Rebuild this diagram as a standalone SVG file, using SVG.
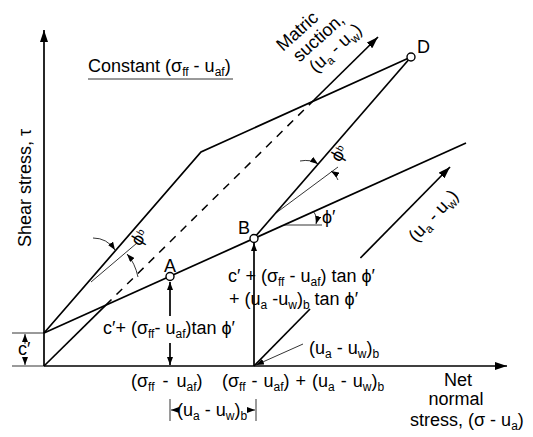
<svg xmlns="http://www.w3.org/2000/svg" width="533" height="437" viewBox="0 0 533 437">
<style>
.ln{stroke:#000;stroke-width:1.7;fill:none}
.th{stroke:#000;stroke-width:0.8;fill:none}
.da{stroke:#000;stroke-width:1.5;fill:none;stroke-dasharray:8 7}
.t{font-family:"Liberation Sans",Arial,sans-serif;fill:#000;font-size:18px}
.s{font-size:12px}
.pt{fill:#fff;stroke:#000;stroke-width:1.4}
</style>
<defs>
<marker id="ar" markerUnits="userSpaceOnUse" markerWidth="12" markerHeight="8" refX="12" refY="4" orient="auto"><path d="M0,0 L12,4 L0,8 z" fill="#000"/></marker>
<marker id="sa" markerUnits="userSpaceOnUse" markerWidth="8" markerHeight="6" refX="8" refY="3" orient="auto"><path d="M0,0 L8,3 L0,6 z" fill="#000"/></marker>
</defs>
<g id="connectors">
<path class="ln" d="M44,366 L44,30" marker-end="url(#ar)"/>
<path class="ln" d="M44,366 L507,366" marker-end="url(#ar)"/>
<path class="ln" d="M44,366 L105.8,305.1"/>
<path class="da" d="M105.8,305.1 L314,100"/>
<path class="ln" d="M314,100 L378,37" marker-end="url(#ar)"/>
<path class="ln" d="M254,366 L310,309"/>
<path class="ln" d="M360.4,258 L450,167" marker-end="url(#ar)"/>
<path class="ln" d="M44,333 L466,143"/>
<path class="ln" d="M44,333 L201,152 L411,57"/>
<path class="ln" d="M254,238 L411,57"/>
<path class="th" d="M303,344 L256,365" marker-end="url(#sa)"/>
<path class="ln" d="M254,366 L254,243" marker-end="url(#sa)"/>
<path class="ln" d="M170,316 L170,282" marker-end="url(#sa)"/>
<path class="ln" d="M170,343 L170,365" marker-end="url(#sa)"/>
<path class="th" d="M12,333 L44,333 M12,366 L44,366"/>
<path class="th" d="M25,344 L25,334" marker-end="url(#sa)"/>
<path class="th" d="M25,357 L25,365" marker-end="url(#sa)"/>
<path class="th" d="M91,282 L137,243"/>
<path class="th" d="M93,238 Q107,238 115,250" marker-end="url(#sa)"/>
<path class="th" d="M138,277 Q135,263 127,254" marker-end="url(#sa)"/>
<path class="th" d="M276,213 L338,167"/>
<path class="th" d="M300,161 Q311,159 318,164" marker-end="url(#sa)"/>
<path class="th" d="M338,180 Q336,174 331,171" marker-end="url(#sa)"/>
<path class="th" d="M284,225 L322,225"/>
<path class="th" d="M313,211 Q318,217 316,224" marker-end="url(#sa)"/>
<path class="th" d="M88,79 L233,79"/>
<path class="th" d="M170,399 L170,421 M256,399 L256,421"/>
<path class="th" d="M177,410 L171,410" marker-end="url(#sa)"/>
<path class="th" d="M249,410 L255,410" marker-end="url(#sa)"/>
</g>
<g id="A"><circle class="pt" cx="170" cy="276.5" r="4"/><text class="t" x="164" y="272">A</text></g>
<g id="B"><circle class="pt" cx="254" cy="238.5" r="4"/><text class="t" x="238" y="234">B</text></g>
<g id="D"><circle class="pt" cx="411" cy="57" r="4"/><text class="t" x="417" y="53">D</text></g>
<g id="labels">
<text class="t" x="88" y="72" font-size="18.5">Constant (σ<tspan class="s" dy="4">ff</tspan><tspan dy="-4"> - u</tspan><tspan class="s" dy="4">af</tspan><tspan dy="-4">)</tspan></text>
<text class="t" transform="translate(31,247) rotate(-90)" font-size="17">Shear stress, τ</text>
<text class="t" x="18" y="355" font-size="15">c′</text>
<text class="t" x="103" y="334" font-size="16">c′+ (σ<tspan class="s" dy="4">ff</tspan><tspan dy="-4">- u</tspan><tspan class="s" dy="4">af</tspan><tspan dy="-4">)tan ϕ′</tspan></text>
<text class="t" x="228" y="282">c′ + (σ<tspan class="s" dy="4">ff</tspan><tspan dy="-4"> - u</tspan><tspan class="s" dy="4">af</tspan><tspan dy="-4">) tan ϕ′</tspan></text>
<text class="t" x="229" y="305">+ (u<tspan class="s" dy="4">a</tspan><tspan dy="-4"> -u</tspan><tspan class="s" dy="4">w</tspan><tspan dy="-4">)</tspan><tspan class="s" dy="4">b</tspan><tspan dy="-4"> tan ϕ′</tspan></text>
<text class="t" x="309" y="354">(u<tspan class="s" dy="4">a</tspan><tspan dy="-4"> - u</tspan><tspan class="s" dy="4">w</tspan><tspan dy="-4">)</tspan><tspan class="s" dy="4">b</tspan></text>
<text class="t" x="131" y="387" font-size="18.5" word-spacing="3">(σ<tspan class="s" dy="4">ff</tspan><tspan dy="-4"> - u</tspan><tspan class="s" dy="4">af</tspan><tspan dy="-4">)</tspan></text>
<text class="t" x="222" y="387" font-size="18.5" word-spacing="1">(σ<tspan class="s" dy="4">ff</tspan><tspan dy="-4"> - u</tspan><tspan class="s" dy="4">af</tspan><tspan dy="-4">) + (u</tspan><tspan class="s" dy="4">a</tspan><tspan dy="-4"> - u</tspan><tspan class="s" dy="4">w</tspan><tspan dy="-4">)</tspan><tspan class="s" dy="4">b</tspan></text>
<text class="t" x="177" y="416">(u<tspan class="s" dy="4">a</tspan><tspan dy="-4"> - u</tspan><tspan class="s" dy="4">w</tspan><tspan dy="-4">)</tspan><tspan class="s" dy="4">b</tspan></text>
<text class="t" x="458" y="386" text-anchor="middle" font-size="17">Net</text>
<text class="t" x="456" y="405" text-anchor="middle" font-size="17">normal</text>
<text class="t" x="410" y="426">stress, (σ - u<tspan class="s" dy="4">a</tspan><tspan dy="-4">)</tspan></text>
<g transform="translate(283,52) rotate(-42)">
<text class="t" x="0" y="0">Matric</text>
<text class="t" x="5" y="19">suction,</text>
<text class="t" x="10" y="38">(u<tspan class="s" dy="4">a</tspan><tspan dy="-4"> - u</tspan><tspan class="s" dy="4">w</tspan><tspan dy="-4">)</tspan></text>
</g>
<text class="t" transform="translate(416,243) rotate(-47)" font-size="17">(u<tspan class="s" dy="4">a</tspan><tspan dy="-4"> - u</tspan><tspan class="s" dy="4">w</tspan><tspan dy="-4">)</tspan></text>
<text class="t" x="322" y="223" font-size="14">ϕ′</text>
<text class="t" transform="translate(140,247) rotate(-58)" font-size="14">ϕ<tspan font-size="10" dy="-4">b</tspan></text>
<text class="t" transform="translate(340,163) rotate(-60)" font-size="14">ϕ<tspan font-size="10" dy="-4">b</tspan></text>
</g>
</svg>
